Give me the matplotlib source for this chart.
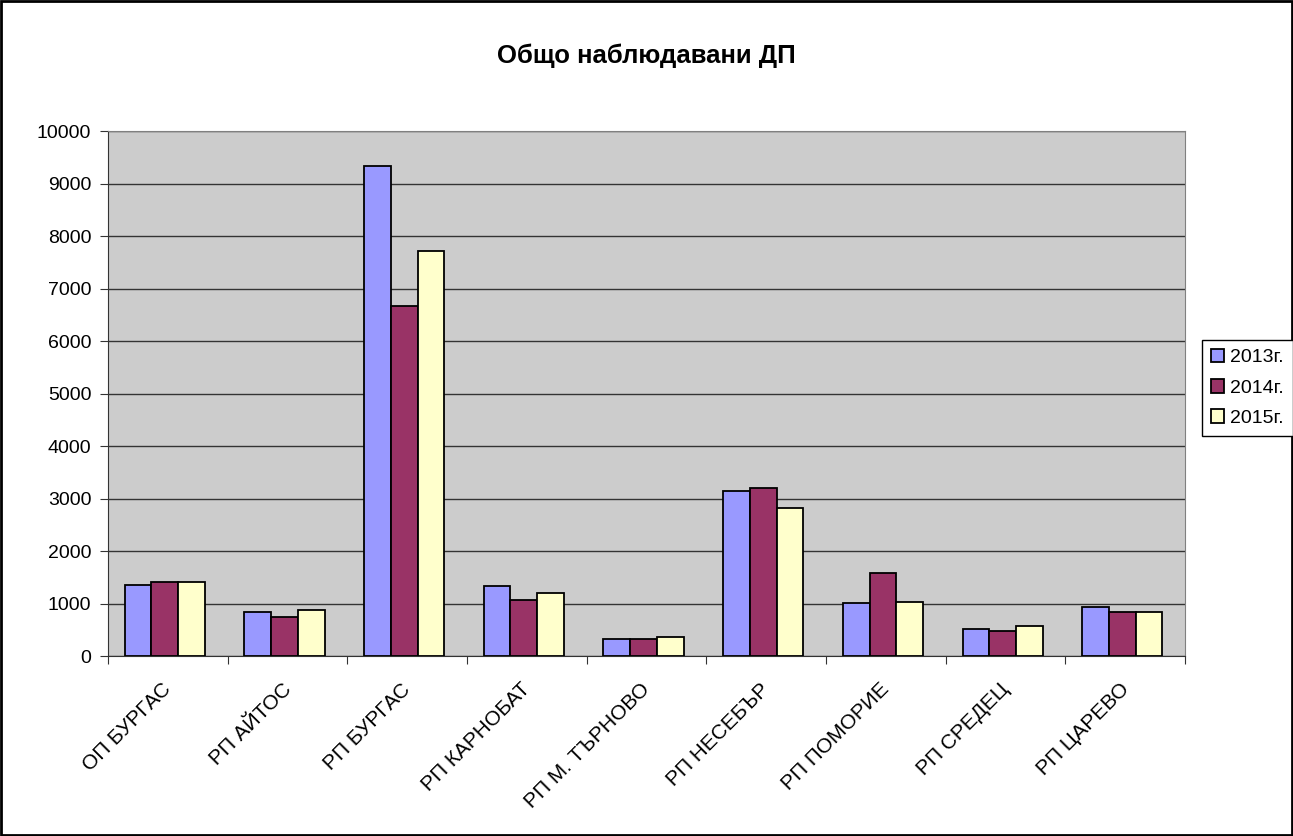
import matplotlib.pyplot as plt
import numpy as np
from matplotlib.patches import Rectangle
from matplotlib.transforms import ScaledTranslation

plt.rcParams['font.family'] = ['Liberation Sans', 'DejaVu Sans']

categories = ['ОП БУРГАС', 'РП АЙТОС', 'РП БУРГАС', 'РП КАРНОБАТ', 'РП М. ТЪРНОВО',
              'РП НЕСЕБЪР', 'РП ПОМОРИЕ', 'РП СРЕДЕЦ', 'РП ЦАРЕВО']
y2013 = [1360, 840, 9330, 1330, 320, 3140, 1005, 510, 935]
y2014 = [1415, 740, 6660, 1065, 320, 3205, 1575, 485, 840]
y2015 = [1415, 870, 7710, 1205, 355, 2815, 1030, 580, 840]
series = ['2013г.', '2014г.', '2015г.']
colors = ['#9999FF', '#993366', '#FFFFCC']

fig = plt.figure(figsize=(12.93, 8.36), dpi=100)
ax = fig.add_axes([0.0835, 0.2153, 0.833, 0.628])
ax.set_facecolor('#CCCCCC')

x = np.arange(len(categories))
w = 0.223
for i, (vals, lab, c) in enumerate(zip([y2013, y2014, y2015], series, colors)):
    ax.bar(x - 0.025 + (i - 1) * w, vals, width=w, color=c, edgecolor='black',
           linewidth=1.3, label=lab, zorder=3)

ax.set_xlim(-0.5, len(categories) - 0.5)
ax.set_ylim(0, 10000)
ax.set_yticks(range(0, 10001, 1000))
ax.yaxis.grid(True, color='#333333', linewidth=1, zorder=1)
ax.set_axisbelow(True)

# ticks between categories, labels at category centers
ax.set_xticks(np.arange(-0.5, len(categories)), minor=False)
ax.set_xticklabels([])
ax.set_xticks(x, minor=True)
ax.set_xticklabels(categories, minor=True, rotation=45, ha='right',
                   rotation_mode='anchor', fontsize=15)
ax.tick_params(axis='x', which='minor', length=0, pad=17)
ax.tick_params(axis='x', which='major', length=6, color='#333333')
ax.tick_params(axis='y', length=6, color='#333333', labelsize=14, pad=6)
shift = ScaledTranslation(-0.06, 0, fig.dpi_scale_trans)
for lbl in ax.get_xticklabels(minor=True):
    lbl.set_transform(lbl.get_transform() + shift)

for s in ['top', 'right']:
    ax.spines[s].set_color('#808080')
for s in ['left', 'bottom']:
    ax.spines[s].set_color('#333333')

fig.text(0.5, 0.933, 'Общо наблюдавани ДП', ha='center', va='center',
         fontsize=18.5, fontweight='bold')

leg = fig.legend(loc='upper left', bbox_to_anchor=(0.9296, 0.5933), fontsize=14,
                 frameon=True, fancybox=False, edgecolor='black', framealpha=1,
                 handlelength=0.7, handleheight=0.7, handletextpad=0.3,
                 labelspacing=0.65, borderpad=0.45, borderaxespad=0)
leg.get_frame().set_linewidth(1)

fig.patches.append(Rectangle((0.001, 0.001), 0.998, 0.998, transform=fig.transFigure,
                             fill=False, edgecolor='black', linewidth=2))

plt.savefig('out.png', dpi=100)
plt.close()
